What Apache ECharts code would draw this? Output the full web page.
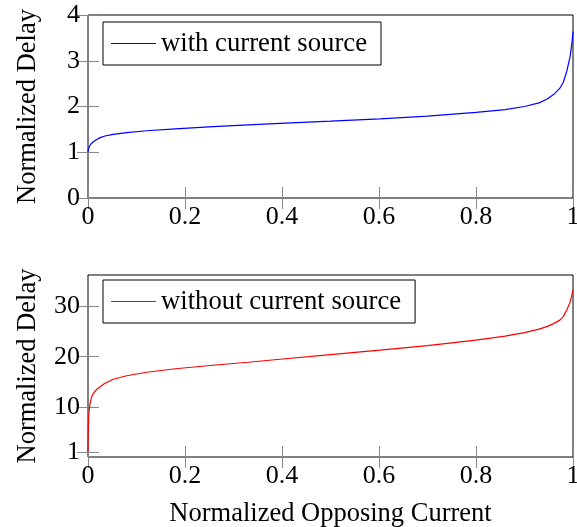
<!DOCTYPE html>
<html>
<head>
<meta charset="utf-8">
<script src="https://cdn.jsdelivr.net/npm/echarts@6/dist/echarts.min.js"></script>
<style>
  html, body { margin: 0; padding: 0; background: #fff; }
  #main { width: 577px; height: 527px; }
</style>
</head>
<body>
<div id="main"></div>
<script>
// 上图：有电流源
const xWith = [0, 0.001, 0.003, 0.006, 0.011, 0.018, 0.025, 0.035, 0.052, 0.08, 0.121, 0.18, 0.258, 0.33, 0.396, 0.5, 0.602, 0.7, 0.8, 0.86, 0.9, 0.93, 0.946, 0.96, 0.973, 0.98, 0.987, 0.994, 0.998, 1.0]
const yWith = [1.0, 1.07, 1.13, 1.18, 1.23, 1.28, 1.32, 1.355, 1.39, 1.43, 1.47, 1.51, 1.56, 1.60, 1.63, 1.68, 1.73, 1.79, 1.87, 1.93, 2.0, 2.08, 2.16, 2.26, 2.40, 2.53, 2.76, 3.09, 3.40, 3.64]
// 下图：无电流源
const xWithout = [0, 0.0003, 0.001, 0.002, 0.004, 0.007, 0.011, 0.017, 0.025, 0.035, 0.052, 0.08, 0.121, 0.18, 0.258, 0.33, 0.396, 0.5, 0.602, 0.7, 0.8, 0.86, 0.9, 0.93, 0.946, 0.96, 0.973, 0.98, 0.987, 0.993, 0.997, 1.0]
const yWithout = [1, 3.5, 6.5, 9.0, 10.5, 11.8, 12.7, 13.4, 14.0, 14.7, 15.5, 16.2, 16.9, 17.6, 18.3, 18.9, 19.5, 20.4, 21.3, 22.2, 23.3, 24.1, 24.8, 25.5, 26.0, 26.6, 27.3, 28.0, 29.3, 30.6, 32.0, 33.3]
const bottomTicks = [1, 10, 20, 30]

const font = 'Liberation Serif'
const tickStyle = { show: true, inside: true, length: 11, lineStyle: { color: '#888' } }

function xAxes(gridIndex, withName) {
  return [
    {
      gridIndex, type: 'value', min: 0, max: 1, interval: 0.2,
      axisLine: { show: false }, splitLine: { show: false },
      axisTick: tickStyle,
      axisLabel: { fontFamily: font, fontSize: 26, color: '#000', margin: 6 },
      name: withName ? 'Normalized Opposing Current' : '',
      nameLocation: 'middle', nameGap: 44,
      nameTextStyle: { fontFamily: font, fontSize: 26.5, color: '#000' }
    },
    {
      gridIndex, type: 'value', position: 'top', min: 0, max: 1, interval: 0.2,
      axisLine: { show: false }, splitLine: { show: false },
      axisTick: tickStyle, axisLabel: { show: false }
    }
  ]
}

function yAxes(gridIndex, opts) {
  const base = {
    gridIndex, type: 'value', min: 0, max: opts.max,
    axisLine: { show: false }, splitLine: { show: false }
  }
  const tick = Object.assign({}, tickStyle, opts.ticks ? { customValues: opts.ticks } : {})
  return [
    Object.assign({}, base, opts.interval ? { interval: opts.interval } : {}, {
      axisTick: tick,
      axisLabel: Object.assign({ fontFamily: font, fontSize: 26, color: '#000', margin: 8 },
        opts.ticks ? { customValues: opts.ticks } : {}),
      name: 'Normalized Delay', nameLocation: 'middle', nameGap: 46,
      nameTextStyle: { fontFamily: font, fontSize: 26.5, color: '#000' }
    }),
    Object.assign({}, base, opts.interval ? { interval: opts.interval } : {}, {
      position: 'right', axisTick: tick, axisLabel: { show: false }
    })
  ]
}

function legendBox(top, name) {
  return {
    data: [name], left: 103, top: top, orient: 'vertical',
    icon: 'rect', itemWidth: 45, itemHeight: 1.2, itemGap: 0,
    borderColor: '#000', borderWidth: 1, borderRadius: 0,
    padding: [8, 14, 8, 8],
    textStyle: { fontFamily: font, fontSize: 26.7, color: '#000' }
  }
}

function line(name, color, xi, yi, xs, ys) {
  return {
    name, type: 'line', xAxisIndex: xi, yAxisIndex: yi,
    showSymbol: false, symbol: 'none', smooth: false,
    lineStyle: { color, width: 1.2 }, itemStyle: { color },
    data: xs.map((x, i) => [x, ys[i]])
  }
}

const option = {
  animation: false,
  grid: [
    { left: 88, top: 15, width: 485, height: 183, show: true, borderColor: '#000', borderWidth: 1, outerBoundsMode: 'none' },
    { left: 88, top: 275, width: 485, height: 182, show: true, borderColor: '#000', borderWidth: 1, outerBoundsMode: 'none' }
  ],
  legend: [
    legendBox(22, 'with current source'),
    legendBox(280, 'without current source')
  ],
  xAxis: [...xAxes(0, false), ...xAxes(1, true)],
  yAxis: [...yAxes(0, { max: 4, interval: 1 }), ...yAxes(1, { max: 36.3, ticks: bottomTicks })],
  series: [
    line('with current source', '#0000ff', 0, 0, xWith, yWith),
    line('without current source', '#ff0000', 2, 2, xWithout, yWithout)
  ]
}

echarts.init(document.getElementById('main')).setOption(option)
</script>
</body>
</html>
